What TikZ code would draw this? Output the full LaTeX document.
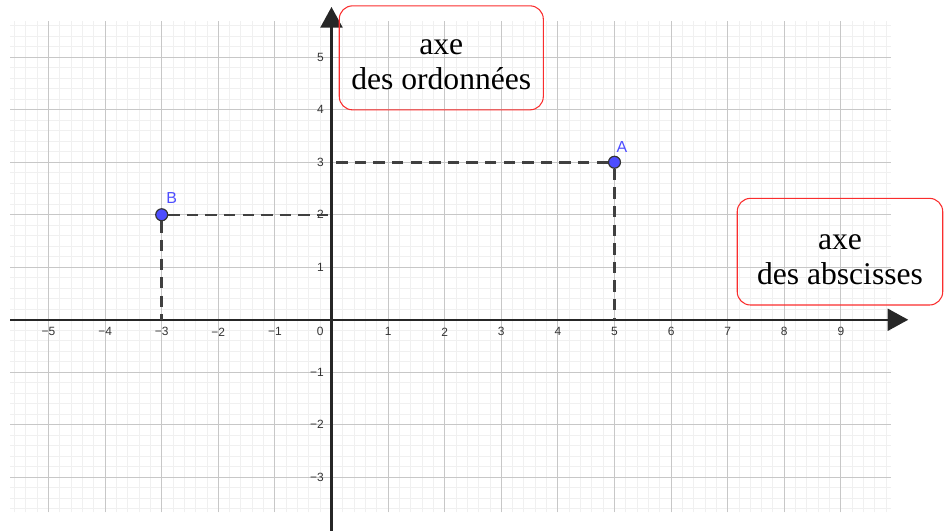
\documentclass[tikz,border=0pt]{standalone}
\usepackage{fontspec}
\setmainfont{Liberation Serif}
\setsansfont{Liberation Sans}
\usetikzlibrary{arrows.meta}
\definecolor{ptblue}{RGB}{77,77,255}
\definecolor{boxred}{RGB}{250,45,45}
\begin{document}
\begin{tikzpicture}[x=1.4975cm, y=1.389cm,
  axis/.style={line width=1.7pt, black!85, -{Triangle[length=15.5pt, width=16.5pt]}},
  guide/.style={line width=1.9pt, black!75, dash pattern=on 8.5pt off 5.5pt},
  pt/.style={circle, draw=black!80, line width=0.9pt, fill=ptblue, inner sep=0pt, minimum size=9pt},
  ptlabel/.style={text=ptblue, font=\sffamily\fontsize{12}{13}\selectfont, inner sep=0pt},
  ticklabel/.style={text=black!80, font=\sffamily\fontsize{9}{10}\selectfont, inner sep=0pt},
  axisbox/.style={draw=boxred, line width=0.8pt, rounded corners=10pt, align=center, inner ysep=0pt, text depth=15.2pt, font=\fontsize{23.8}{26.8}\selectfont}]
\useasboundingbox (-5.857,-4.023) rectangle (10.875,6.091);
\draw[black!6, line width=0.7pt, step=0.2] (-5.68,-3.67) grid (9.89,5.69);
\draw[black!22, line width=0.75pt, step=1] (-5.68,-3.67) grid (9.89,5.69);
\coordinate (xstart) at (-5.68,0);
\coordinate (xend) at (10.19,0);
\coordinate (ystart) at (0,-4.023);
\coordinate (yend) at (0,5.958);
\draw[axis] (xstart) -- (xend);
\draw[axis] (ystart) -- (yend);
\foreach \i in {1,...,9}
  \node[ticklabel] (tx\i) at (\i,-0.23) {\i};
\foreach \i in {1,...,5}
  \node[ticklabel] (txm\i) at (-\i,-0.23) {−\i};
\foreach \j in {1,...,5}
  \node[ticklabel, anchor=east] (ty\j) at (-0.13,\j) {\j};
\foreach \j in {1,2,3}
  \node[ticklabel, anchor=east] (tym\j) at (-0.13,-\j) {−\j};
\node[ticklabel] (orig) at (-0.2,-0.23) {0};
\node[axisbox, minimum width=153.6pt, text height=63.1pt] (ordbox) at (1.940,4.989) {axe\\des ordonnées};
\node[axisbox, minimum width=154.7pt, text height=65.1pt] (absbox) at (8.984,1.297) {axe\\des abscisses};
\node[pt] (A) at (5,3) {};
\node[pt] (B) at (-3,2) {};
\coordinate (Ax) at (5,0);
\coordinate (Ay) at (0,3);
\coordinate (Bx) at (-3,0);
\coordinate (By) at (0,2);
\draw[guide] (A) -- (Ay);
\draw[guide] (A) -- (Ax);
\draw[guide] (B) -- (By);
\draw[guide] (B) -- (Bx);
\node[ptlabel] (labA) at ([xshift=5.6pt, yshift=11.3pt]A.center) {A};
\node[ptlabel] (labB) at ([xshift=7.5pt, yshift=12.6pt]B.center) {B};
\end{tikzpicture}
\end{document}
